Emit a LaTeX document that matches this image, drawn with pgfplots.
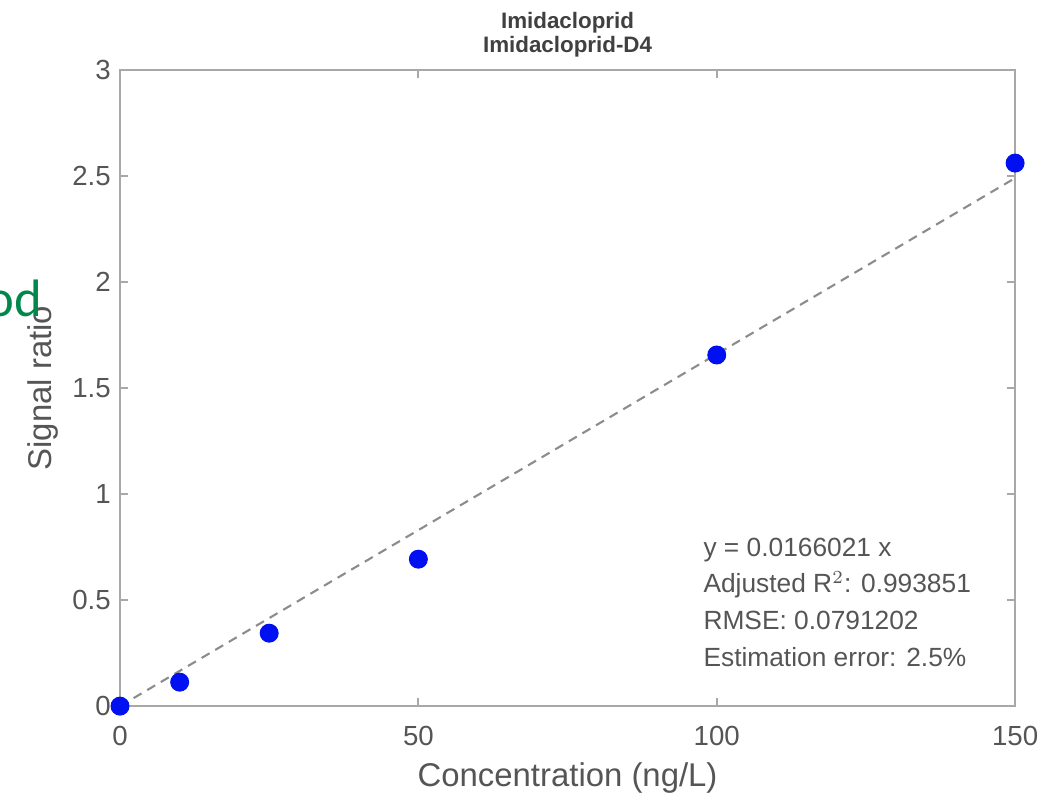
\documentclass[border=0pt]{standalone}
\usepackage{fontspec}
\setmainfont{Liberation Sans}
\newfontfamily\greenfont{Carlito}
\usepackage{pgfplots}
\pgfplotsset{compat=1.18}
\definecolor{axgray}{HTML}{A8A8A8}
\definecolor{txtgray}{HTML}{555555}
\definecolor{ptblue}{HTML}{0010F0}
\definecolor{fitgray}{HTML}{8C8C8C}
\definecolor{odgreen}{RGB}{0,135,75}

\begin{document}
\begin{tikzpicture}
\begin{axis}[
  scale only axis,
  width=340.1pt,
  height=241.7pt,
  xmin=0, xmax=150,
  ymin=0, ymax=3,
  xtick={0,50,100,150},
  ytick={0,0.5,1,1.5,2,2.5,3},
  yticklabels={0,0.5,1,1.5,2,2.5,3},
  tick align=inside,
  major tick length=3pt,
  axis line style={draw=axgray, line width=1pt},
  tick style={draw=axgray, line width=0.8pt},
  /pgf/number format/assume math mode=true,
  tick label style={font=\fontsize{10.5}{12}\selectfont, text=txtgray},
  xticklabel style={yshift=-4pt},
  xlabel={Concentration (ng/L)},
  ylabel={Signal ratio},
  label style={font=\fontsize{12.5}{14}\selectfont, text=txtgray},
  xlabel style={at={(rel axis cs:0.5,0)}, anchor=center, yshift=-27.4pt},
  ylabel style={at={([xshift=-29.2pt]rel axis cs:0,0.5)}, anchor=center},
  title={Imidacloprid\\Imidacloprid-D4},
  title style={font=\fontsize{8.5}{9}\selectfont\bfseries, text=black!75, align=center,
    at={(rel axis cs:0.5,1)}, anchor=south, yshift=-4.7pt},
  clip=false,
]
% fitted line y = 0.0166021 x
\addplot[fitgray, line width=0.8pt, dash pattern=on 3.5pt off 2.5pt] coordinates {(0,0) (150,2.4903)};
% calibration points
\addplot[only marks, mark=*, mark size=3.4pt, ptblue, mark options={draw=ptblue, fill=ptblue}]
  coordinates {(0,0.0) (10,0.113) (25,0.344) (50,0.693) (100,1.656) (150,2.561)};
\node[anchor=north west, inner sep=0pt, align=left, text=txtgray,
  font=\fontsize{10}{14}\selectfont] at (axis cs:97.7,0.797)
  {y = 0.0166021 x\\Adjusted R$^{2}$: 0.993851\\RMSE: 0.0791202\\Estimation error: 2.5\%};
\end{axis}
\node[anchor=base east, inner sep=0pt, text=odgreen, font=\greenfont\fontsize{20}{22}\selectfont]
  at (-29.3pt,148.2pt) {od};
\pgfresetboundingbox
\path (-45.6pt,-34.2pt) rectangle (350.7pt,268.3pt);
\end{tikzpicture}
\end{document}
